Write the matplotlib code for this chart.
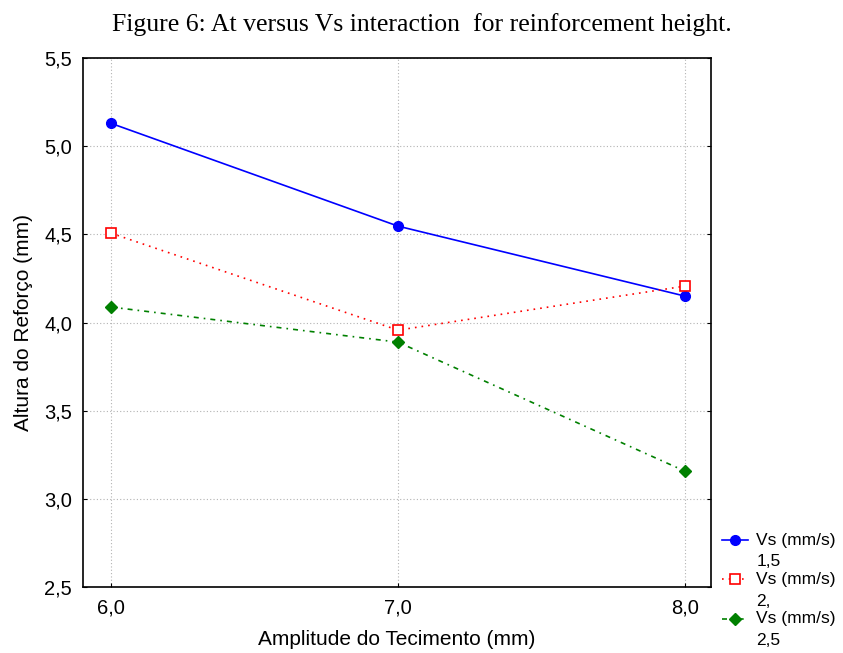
import numpy as np
import matplotlib; matplotlib.use("Agg")
import matplotlib.pyplot as plt
from matplotlib.legend_handler import HandlerLine2D

at = [6.0, 7.0, 8.0]
vs_15 = [5.13, 4.547, 4.15]
vs_20 = [4.507, 3.957, 4.207]
vs_25 = [4.088, 3.889, 3.157]
labels = ["Vs (mm/s)\n1,5", "Vs (mm/s)\n2,", "Vs (mm/s)\n2,5"]
yticks = [2.5, 3.0, 3.5, 4.0, 4.5, 5.0, 5.5]

class TopLine(HandlerLine2D):
    # put the legend handle next to the first text line, not the middle
    def create_artists(self, legend, orig_handle, xdescent, ydescent, width, height, fontsize, trans):
        arts = super().create_artists(legend, orig_handle, xdescent, ydescent, width, height, fontsize, trans)
        for a in arts:
            a.set_ydata(np.asarray(a.get_ydata()) + 0.63 * fontsize)
        return arts

plt.rcParams["font.family"] = ["Liberation Sans", "DejaVu Sans"]
fig = plt.figure(figsize=(8.43, 6.53), dpi=100)
ax = fig.add_axes([0.0985, 0.101, 0.745, 0.81])

l1, = ax.plot(at, vs_15, color="blue", ls="-", lw=1.2, marker="o", ms=7)
l2, = ax.plot(at, vs_20, color="red", ls=(0, (1, 3)), lw=1.2, marker="s", ms=7, mfc="white", mew=1.2)
l3, = ax.plot(at, vs_25, color="#008000", ls=(0, (3, 3, 1, 3)), lw=1.2, marker="D", ms=6)

ax.set_xlim(5.9024, 8.0906)
ax.set_ylim(2.5, 5.5)
ax.set_xticks(at)
ax.set_xticklabels([f"{v:.1f}".replace(".", ",") for v in at])
ax.set_yticks(yticks)
ax.set_yticklabels([f"{v:.1f}".replace(".", ",") for v in yticks])
ax.tick_params(direction="in", length=3, labelsize=14.5, top=False, right=True, pad=8)
ax.grid(True, color="0.7", ls=(0, (1, 2)), lw=0.8)
for s in ax.spines.values():
    s.set_linewidth(1.2)
ax.set_xlabel("Amplitude do Tecimento (mm)", fontsize=15, labelpad=9)
ax.set_ylabel("Altura do Reforço (mm)", fontsize=15, labelpad=8)

fig.text(0.5, 0.963, "Figure 6: At versus Vs interaction  for reinforcement height.",
         ha="center", va="center", fontsize=18.5, family="Liberation Serif")

leg = fig.legend([l1, l2, l3], labels, loc="upper left", bbox_to_anchor=(0.857, 0.184),
                 frameon=False, fontsize=12.5, handlelength=1.5, handletextpad=0.45,
                 labelspacing=0.15, borderaxespad=0, borderpad=0,
                 handler_map={l: TopLine() for l in (l1, l2, l3)})
for t in leg.get_texts():
    t.set_linespacing(1.55)

fig.savefig("out.png", dpi=100)
